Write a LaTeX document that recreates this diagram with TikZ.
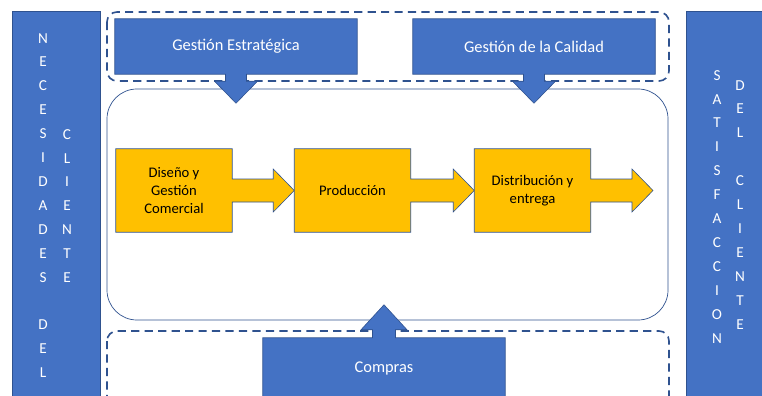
\documentclass[tikz,border=0pt]{standalone}
\usepackage{fontspec}
\setmainfont{Carlito}
\usepackage{xcolor}
\usepackage{tikz}
\usetikzlibrary{calc,backgrounds}
\definecolor{azul}{HTML}{4472C4}
\definecolor{borde}{HTML}{2F528F}
\definecolor{amarillo}{HTML}{FFC000}

\begin{document}
\begin{tikzpicture}[x=0.03cm, y=-0.03cm,
  columna/.style={draw=borde, line width=0.5pt, fill=azul, minimum height=12cm, anchor=north, inner sep=0pt},
  letras/.style={text=white, font=\fontsize{13}{20.4}\selectfont, align=center, inner sep=0pt, anchor=north},
  cabecera/.style={text=white, font=\fontsize{14}{17}\selectfont, minimum width=7.26cm, minimum height=1.65cm, inner sep=0pt},
  etapa/.style={font=\fontsize{12.5}{15.3}\selectfont, align=center, minimum width=3.48cm, minimum height=2.49cm, inner sep=0pt},
  bloque/.style={fill=azul, draw=borde, line width=0.5pt},
  flecha/.style={fill=amarillo, draw=borde, line width=0.5pt},
  marco/.style={draw=borde, line width=1.4pt, dash pattern=on 7pt off 4.5pt, rounded corners=0.3cm}]
\useasboundingbox (0,0) rectangle (762,396);
\clip (0,0) rectangle (762,396);
% columnas laterales
\node[columna, minimum width=2.64cm] (necesidades) at (56,11) {};
\node[columna, minimum width=2.28cm] (satisfaccion) at (724,11) {};
\node[letras] (necA) at (43,33) {N\\E\\C\\E\\S\\I\\D\\A\\D\\E\\S\\[20.4pt]D\\E\\L};
\node[letras] (necB) at (67,129) {C\\L\\I\\E\\N\\T\\E};
\node[letras] (satA) at (717,70) {S\\A\\T\\I\\S\\F\\A\\C\\C\\I\\O\\N};
\node[letras] (satB) at (740,80) {D\\E\\L\\[20.4pt]C\\L\\I\\E\\N\\T\\E};
% gestion y compras
\node[cabecera] (estrategica) at (236,46.5) {Gestión Estratégica};
\node[cabecera] (calidad) at (534,46.5) {Gestión de la Calidad};
\node[cabecera, minimum height=1.8cm] (compras) at (384,368) {Compras};
% etapas
\node[etapa] (diseno) at (174,190.5) {Diseño y\\Gestión\\Comercial};
\node[etapa] (produccion) at (352.5,190.5) {Producción};
\node[etapa] (distribucion) at (532.5,190.5) {Distribución y\\entrega};
\coordinate (salida) at (653,190.5);

\begin{scope}[on background layer]
\clip (0,0) rectangle (762,396);
\draw[marco] (107,12) rectangle (669,81);
\draw[marco] (107,331) rectangle (669,430);
\node[draw=borde, line width=0.6pt, rounded corners=0.9cm, minimum width=16.83cm, minimum height=6.93cm] (proceso) at (387.5,204.5) {};
\foreach \n in {estrategica,calidad}
  \path[bloque] (\n.north west) -- (\n.north east) -- (\n.south east)
    -- ($(\n.south)+(10.5,0)$) -- ++(0,7) -- ++(11,0) -- ($(\n.south)+(0,29)$)
    -- ++(-21.5,-22) -- ++(11,0) -- ++(0,-7) -- (\n.south west) -- cycle;
\path[bloque] (compras.south west) -- (compras.north west)
  -- ($(compras.north)+(-11.5,0)$) -- ++(0,-8) -- ++(-11.5,0) -- ($(compras.north)+(0,-33)$)
  -- ++(23,25) -- ++(-11.5,0) -- ++(0,8) -- (compras.north east) -- (compras.south east) -- cycle;
\foreach \a/\b in {diseno/produccion.west, produccion/distribucion.west, distribucion/salida}
  \path[flecha] (\a.north west) -- (\a.north east) -- ($(\a.east)+(0,-11.5)$)
    -- ($(\b)+(-21,-11.5)$) -- ($(\b)+(-21,-21.5)$) -- (\b) -- ($(\b)+(-21,21.5)$)
    -- ($(\b)+(-21,11.5)$) -- ($(\a.east)+(0,11.5)$) -- (\a.south east) -- (\a.south west) -- cycle;
\end{scope}
\end{tikzpicture}
\end{document}
